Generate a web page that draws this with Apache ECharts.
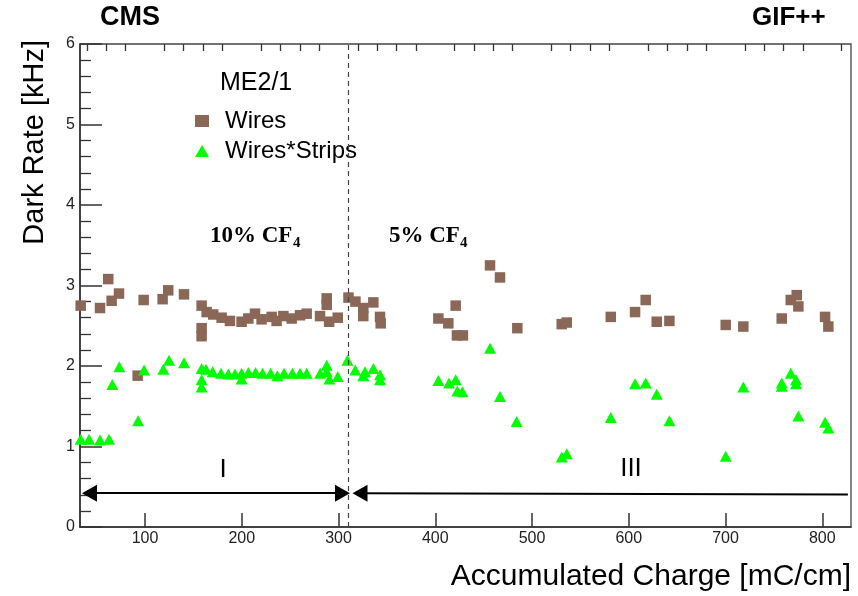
<!DOCTYPE html>
<html><head><meta charset="utf-8">
<script src="https://cdn.jsdelivr.net/npm/echarts@6/dist/echarts.min.js"></script>
<style>html,body{margin:0;padding:0;background:#fff}#c{width:858px;height:596px}</style>
</head><body><div id="c"></div>
<script>
// ---- data ----
const wiresCharge = [33.5, 53.5, 62, 65.5, 73.1, 92.4, 98.6, 118.2, 124, 140.3, 158.5, 158.5, 158.5, 163.7, 170.5, 179.2, 187.8, 199.8, 206.8, 213.7, 220.5, 230.9, 236, 243, 251.6, 260.2, 267.1, 280.9, 287.8, 287.8, 290.3, 299.2, 310.3, 317.5, 325.6, 325.6, 336, 342.9, 343.6, 403.2, 413.5, 421.1, 422.4, 428.6, 456.6, 466.9, 484.8, 530.7, 535.9, 581.4, 606.5, 617.5, 628.9, 642, 700.2, 718.4, 758.1, 767.4, 773.6, 775.3, 802.9, 806.3];
const wiresRate = [2.75, 2.72, 3.08, 2.81, 2.90, 1.88, 2.82, 2.83, 2.94, 2.89, 2.75, 2.47, 2.37, 2.67, 2.64, 2.60, 2.56, 2.55, 2.59, 2.65, 2.58, 2.61, 2.56, 2.62, 2.59, 2.63, 2.65, 2.62, 2.84, 2.76, 2.55, 2.60, 2.85, 2.80, 2.72, 2.62, 2.79, 2.61, 2.53, 2.59, 2.53, 2.75, 2.38, 2.38, 3.25, 3.10, 2.47, 2.52, 2.54, 2.61, 2.67, 2.82, 2.55, 2.56, 2.51, 2.49, 2.59, 2.82, 2.88, 2.74, 2.61, 2.49];
const stripsCharge = [33.5, 42.1, 53.5, 62.8, 66.2, 73.4, 92.8, 99, 118.9, 124.8, 140.3, 158.5, 158.5, 158.5, 163, 169.9, 178.5, 186.1, 193, 199.8, 199.8, 206.8, 214.3, 221.5, 229.8, 236.7, 243.7, 252.3, 260.2, 267.1, 281, 287.8, 287.8, 290.6, 299.2, 309.2, 317.3, 325.6, 327.4, 336, 342.9, 342.9, 403.2, 414.2, 421.1, 422.8, 428, 456.6, 466.9, 484.1, 530.7, 535.9, 581.4, 606.5, 617.5, 628.9, 642, 700.2, 718.4, 758.1, 758.1, 767.4, 772.9, 772.9, 775.3, 802.9, 806.3];
const stripsRate = [1.09, 1.09, 1.08, 1.09, 1.77, 1.99, 1.32, 1.95, 1.96, 2.07, 2.04, 1.97, 1.83, 1.74, 1.96, 1.93, 1.91, 1.90, 1.90, 1.91, 1.84, 1.92, 1.92, 1.91, 1.91, 1.88, 1.91, 1.91, 1.91, 1.91, 1.91, 2.01, 1.93, 1.84, 1.87, 2.07, 1.95, 1.88, 1.93, 1.97, 1.89, 1.83, 1.82, 1.79, 1.83, 1.69, 1.68, 2.22, 1.62, 1.31, 0.87, 0.91, 1.36, 1.78, 1.79, 1.65, 1.32, 0.88, 1.74, 1.79, 1.75, 1.91, 1.83, 1.78, 1.38, 1.30, 1.23];
const xMajorTicks = [100, 200, 300, 400, 500, 600, 700, 800];
const xMinorTicks = [40, 60, 80, 120, 140, 160, 180, 220, 240, 260, 280, 320, 340, 360, 380, 420, 440, 460, 480, 520, 540, 560, 580, 620, 640, 660, 680, 720, 740, 760, 780, 820];
const seriesNames = ['Wires', 'Wires*Strips'];
const gasChange = 310;          // dashed separator (mC/cm)
const xMin = 32.8, xMax = 829.7, yMin = 0, yMax = 6;

const SANS = '"Liberation Sans", Arial, sans-serif';
const SERIF = '"Liberation Serif", "Times New Roman", serif';
const chart = echarts.init(document.getElementById('c'), null, {renderer: 'canvas'});

const arrowHead = {symbol: 'triangle', symbolSize: [17, 15]};
const option = {
  animation: false,
  backgroundColor: '#fff',
  grid: {left: 80, right: 7, top: 44, bottom: 69, show: true, borderColor: '#444', borderWidth: 1.3, backgroundColor: 'transparent'},
  xAxis: [{
    type: 'value', min: xMin, max: xMax,
    axisLine: {lineStyle: {color: '#333', width: 1.6}},
    splitLine: {show: false},
    axisTick: {inside: true, length: 14, customValues: xMajorTicks, lineStyle: {color: '#333', width: 1.5}},
    axisLabel: {customValues: xMajorTicks, fontSize: 16, color: '#222', fontFamily: SANS, margin: 4}
  }, {
    type: 'value', min: xMin, max: xMax,
    axisLine: {show: false}, splitLine: {show: false},
    axisTick: {inside: true, length: 7, customValues: xMinorTicks, lineStyle: {color: '#333', width: 1.3}},
    axisLabel: {show: false}
  }],
  yAxis: {
    type: 'value', min: yMin, max: yMax, interval: 1,
    axisLine: {show: true, lineStyle: {color: '#333', width: 1.6}},
    splitLine: {show: false},
    axisTick: {inside: true, length: 22, lineStyle: {color: '#333', width: 1.5}},
    minorTick: {show: true, splitNumber: 5, length: 11, lineStyle: {color: '#333', width: 1.3}},
    axisLabel: {fontSize: 16, color: '#222', fontFamily: SANS, margin: 5}
  },
  legend: {
    data: seriesNames, orient: 'vertical', left: 195, top: 109, padding: 0,
    itemWidth: 14, itemHeight: 12, itemGap: 6, selectedMode: false,
    textStyle: {fontSize: 24, fontFamily: SANS, color: '#000', padding: [0, 0, 0, 11]}
  },
  series: [{
    name: seriesNames[0], type: 'scatter', symbol: 'rect', symbolSize: 10.5, z: 3,
    itemStyle: {color: '#8b6758', opacity: 1},
    data: wiresCharge.map((x, i) => [x, wiresRate[i]])
  }, {
    name: seriesNames[1], type: 'scatter', symbol: 'triangle', symbolSize: [12, 11], z: 4,
    itemStyle: {color: '#00ff00', opacity: 1},
    data: stripsCharge.map((x, i) => [x, stripsRate[i]]),
    markLine: {
      silent: true, animation: false, symbol: 'none', label: {show: false},
      emphasis: {disabled: true},
      data: [
        {xAxis: gasChange, lineStyle: {type: [5, 4], color: '#444', width: 1.2}},
        [{coord: [42.6, 0.42], ...arrowHead, lineStyle: {color: '#000', width: 2, type: 'solid'}},
         {coord: [304.1, 0.42], ...arrowHead}],
        [{coord: [322.2, 0.42], ...arrowHead, lineStyle: {color: '#000', width: 2, type: 'solid'}},
         {coord: [826.5, 0.403], symbol: 'none'}]
      ]
    }
  }],
  graphic: [
    {type: 'text', x: 100, y: 18, style: {text: 'CMS', font: 'bold 27px ' + SANS, fill: '#000', verticalAlign: 'middle'}},
    {type: 'text', x: 752, y: 18, style: {text: 'GIF++', font: 'bold 26px ' + SANS, fill: '#000', verticalAlign: 'middle'}},
    {type: 'text', x: 220, y: 83, style: {text: 'ME2/1', font: '25px ' + SANS, fill: '#000', verticalAlign: 'middle'}},
    {type: 'text', x: 851, y: 577, style: {text: 'Accumulated Charge [mC/cm]', font: '30px ' + SANS, fill: '#000', align: 'right', verticalAlign: 'middle'}},
    {type: 'text', x: 35, y: 40, rotation: Math.PI / 2, style: {text: 'Dark Rate [kHz]', font: '29px ' + SANS, fill: '#000', align: 'right', verticalAlign: 'middle'}},
    {type: 'text', x: 210, y: 236, style: {text: '10% CF', font: 'bold 23px ' + SERIF, fill: '#000', verticalAlign: 'middle'}},
    {type: 'text', x: 293, y: 243, style: {text: '4', font: 'bold 15px ' + SERIF, fill: '#000', verticalAlign: 'middle'}},
    {type: 'text', x: 389, y: 236, style: {text: '5% CF', font: 'bold 23px ' + SERIF, fill: '#000', verticalAlign: 'middle'}},
    {type: 'text', x: 460, y: 243, style: {text: '4', font: 'bold 15px ' + SERIF, fill: '#000', verticalAlign: 'middle'}},
    {type: 'text', x: 223, y: 470, style: {text: 'I', font: '26px ' + SANS, fill: '#000', align: 'center', verticalAlign: 'middle'}},
    {type: 'text', x: 631, y: 469, style: {text: 'III', font: '26px ' + SANS, fill: '#000', align: 'center', verticalAlign: 'middle'}}
  ]
};
chart.setOption(option);
</script>
</body></html>
